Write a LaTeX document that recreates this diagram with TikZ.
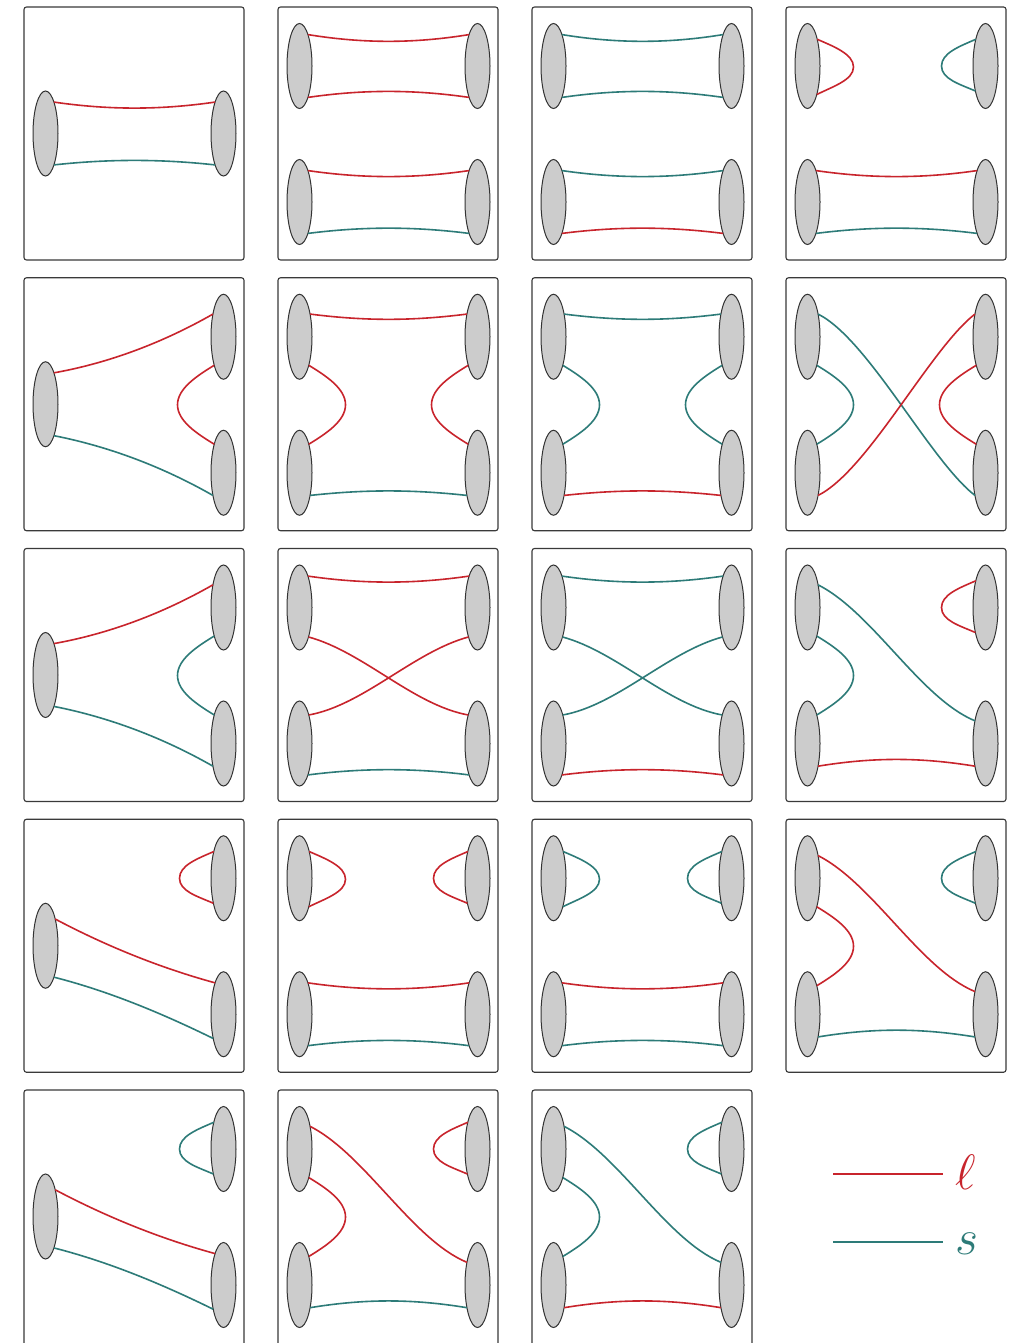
\documentclass[tikz,border=0pt]{standalone}
\usepackage{graphicx}
\usetikzlibrary{shapes.geometric}
\definecolor{lred}{HTML}{C8242C}
\definecolor{lteal}{HTML}{2D7B78}
\definecolor{ellf}{HTML}{CCCCCC}
\definecolor{elld}{HTML}{333333}
\definecolor{frm}{HTML}{3A3A3A}
\tikzset{
  ell/.style={ellipse, draw=elld, fill=ellf, line width=1pt, minimum width=25pt, minimum height=85pt, inner sep=0pt, outer sep=0pt},
  rl/.style={draw=lred, line width=1.6pt},
  tl/.style={draw=lteal, line width=1.6pt},
  frame/.style={draw=frm, line width=1.1pt, rounded corners=2.5pt},
  leglabel/.style={inner sep=0pt, anchor=base west, font=\Huge}
}
\newcommand\panelframe[1][253]{\draw[frame] (0,0) rectangle (220,#1);}
\newcommand\fourell[1]{\node[ell] (#1LT) at (21.5,59) {}; \node[ell] (#1LB) at (21.5,195) {}; \node[ell] (#1RT) at (199.5,59) {}; \node[ell] (#1RB) at (199.5,195) {};}
\newcommand\threeell[1]{\node[ell] (#1L) at (21.5,126.5) {}; \node[ell] (#1RT) at (199.5,59) {}; \node[ell] (#1RB) at (199.5,195) {};}
\newcommand\twoell[1]{\node[ell] (#1L) at (21.5,126.5) {}; \node[ell] (#1R) at (199.5,126.5) {};}
\newcommand\tube[6]{\draw[#1] (#2.#4) .. controls +(55,#6) and +(-55,#6) .. (#3.#5);}
\newcommand\cupL[2]{\draw[#1] (#2LT.-72) .. controls +(18,11) and +(0,-16) .. (67.5,127) .. controls +(0,16) and +(18,-11) .. (#2LB.72);}
\newcommand\cupR[2]{\draw[#1] (#2RT.-108) .. controls +(-18,11) and +(0,-16) .. (153.5,127) .. controls +(0,16) and +(-18,-11) .. (#2RB.108);}
\newcommand\capL[2]{\draw[#1] (#2LT.70) .. controls +(16,7) and +(0,-13) .. (67.5,60) .. controls +(0,13) and +(16,-8) .. (#2LT.-72);}
\newcommand\capR[2]{\draw[#1] (#2RT.110) .. controls +(-16,7) and +(0,-13) .. (155.5,59) .. controls +(0,13) and +(-16,-7) .. (#2RT.-112);}
\begin{document}
\begin{tikzpicture}[x=1pt,y=-1pt]
\fill[white] (0,0) rectangle (1013,1343);
\useasboundingbox (0,0) rectangle (1013,1343);

% ---------- row 1 ----------
\begin{scope}[shift={(24,7)}]
\panelframe \twoell{a}
\tube{rl}{aL}{aR}{75}{105}{8}
\tube{tl}{aL}{aR}{-75}{-105}{-6}
\end{scope}

\begin{scope}[shift={(278,7)}]
\panelframe \fourell{b}
\tube{rl}{bLT}{bRT}{75}{105}{9}
\tube{rl}{bLT}{bRT}{-75}{-105}{-8}
\tube{rl}{bLB}{bRB}{75}{105}{8}
\tube{tl}{bLB}{bRB}{-75}{-105}{-7}
\end{scope}

\begin{scope}[shift={(532,7)}]
\panelframe \fourell{c}
\tube{tl}{cLT}{cRT}{75}{105}{9}
\tube{tl}{cLT}{cRT}{-75}{-105}{-8}
\tube{tl}{cLB}{cRB}{75}{105}{8}
\tube{rl}{cLB}{cRB}{-75}{-105}{-7}
\end{scope}

\begin{scope}[shift={(786,7)}]
\panelframe \fourell{d}
\capL{rl}{d}
\capR{tl}{d}
\tube{rl}{dLB}{dRB}{75}{105}{8}
\tube{tl}{dLB}{dRB}{-75}{-105}{-7}
\end{scope}

% ---------- row 2 ----------
\begin{scope}[shift={(24,277.75)}]
\panelframe \threeell{e}
\draw[rl] (eL.75) .. controls +(56,-10) and +(-49,28) .. (eRT.115);
\draw[tl] (eL.-75) .. controls +(56,11) and +(-49,-28) .. (eRB.-115);
\cupR{rl}{e}
\end{scope}

\begin{scope}[shift={(278,277.75)}]
\panelframe \fourell{f}
\tube{rl}{fLT}{fRT}{65}{115}{7}
\cupL{rl}{f}
\cupR{rl}{f}
\tube{tl}{fLB}{fRB}{-65}{-115}{-6}
\end{scope}

\begin{scope}[shift={(532,277.75)}]
\panelframe \fourell{g}
\tube{tl}{gLT}{gRT}{65}{115}{7}
\cupL{tl}{g}
\cupR{tl}{g}
\tube{rl}{gLB}{gRB}{-65}{-115}{-6}
\end{scope}

\begin{scope}[shift={(786,277.75)}]
\panelframe \fourell{h}
\draw[tl] (hLT.65) .. controls +(50,25) and +(-45,-35) .. (hRB.-115);
\cupL{tl}{h}
\draw[rl] (hLB.-65) .. controls +(50,-25) and +(-45,35) .. (hRT.115);
\cupR{rl}{h}
\end{scope}

% ---------- row 3 ----------
\begin{scope}[shift={(24,548.5)}]
\panelframe \threeell{i}
\draw[rl] (iL.75) .. controls +(56,-10) and +(-49,28) .. (iRT.115);
\draw[tl] (iL.-75) .. controls +(56,11) and +(-49,-28) .. (iRB.-115);
\cupR{tl}{i}
\end{scope}

\begin{scope}[shift={(278,548.5)}]
\panelframe \fourell{j}
\tube{rl}{jLT}{jRT}{75}{105}{8}
\draw[rl] (jLT.-73) .. controls +(55,15) and +(-55,-10) .. (jRB.108);
\draw[rl] (jLB.72) .. controls +(55,-10) and +(-55,15) .. (jRT.-107);
\tube{tl}{jLB}{jRB}{-75}{-105}{-7}
\end{scope}

\begin{scope}[shift={(532,548.5)}]
\panelframe \fourell{k}
\tube{tl}{kLT}{kRT}{75}{105}{8}
\draw[tl] (kLT.-73) .. controls +(55,15) and +(-55,-10) .. (kRB.108);
\draw[tl] (kLB.72) .. controls +(55,-10) and +(-55,15) .. (kRT.-107);
\tube{rl}{kLB}{kRB}{-75}{-105}{-7}
\end{scope}

\begin{scope}[shift={(786,548.5)}]
\panelframe \fourell{l}
\draw[tl] (lLT.65) .. controls +(55,28) and +(-55,-23) .. (lRB.115);
\cupL{tl}{l}
\capR{rl}{l}
\tube{rl}{lLB}{lRB}{-65}{-115}{-9}
\end{scope}

% ---------- row 4 ----------
\begin{scope}[shift={(24,819.25)}]
\panelframe \threeell{m}
\capR{rl}{m}
\draw[rl] (mL.70) .. controls +(51,27) and +(-55,-15) .. (mRB.105);
\draw[tl] (mL.-75) .. controls +(55,14) and +(-51,-25) .. (mRB.-113);
\end{scope}

\begin{scope}[shift={(278,819.25)}]
\panelframe \fourell{n}
\capL{rl}{n}
\capR{rl}{n}
\tube{rl}{nLB}{nRB}{75}{105}{8}
\tube{tl}{nLB}{nRB}{-75}{-105}{-7}
\end{scope}

\begin{scope}[shift={(532,819.25)}]
\panelframe \fourell{o}
\capL{tl}{o}
\capR{tl}{o}
\tube{rl}{oLB}{oRB}{75}{105}{8}
\tube{tl}{oLB}{oRB}{-75}{-105}{-7}
\end{scope}

\begin{scope}[shift={(786,819.25)}]
\panelframe \fourell{p}
\draw[rl] (pLT.65) .. controls +(55,28) and +(-55,-23) .. (pRB.115);
\cupL{rl}{p}
\capR{tl}{p}
\tube{tl}{pLB}{pRB}{-65}{-115}{-9}
\end{scope}

% ---------- row 5 ----------
\begin{scope}[shift={(24,1090)}]
\panelframe[258] \threeell{q}
\capR{tl}{q}
\draw[rl] (qL.70) .. controls +(51,27) and +(-55,-15) .. (qRB.105);
\draw[tl] (qL.-75) .. controls +(55,14) and +(-51,-25) .. (qRB.-113);
\end{scope}

\begin{scope}[shift={(278,1090)}]
\panelframe[258] \fourell{r}
\draw[rl] (rLT.65) .. controls +(55,28) and +(-55,-23) .. (rRB.115);
\cupL{rl}{r}
\capR{rl}{r}
\tube{tl}{rLB}{rRB}{-65}{-115}{-9}
\end{scope}

\begin{scope}[shift={(532,1090)}]
\panelframe[258] \fourell{s}
\draw[tl] (sLT.65) .. controls +(55,28) and +(-55,-23) .. (sRB.115);
\cupL{tl}{s}
\capR{tl}{s}
\tube{rl}{sLB}{sRB}{-65}{-115}{-9}
\end{scope}

% ---------- legend ----------
\coordinate (lega1) at (833,1174);
\coordinate (lega2) at (943,1174);
\coordinate (legb1) at (833,1242);
\coordinate (legb2) at (943,1242);
\draw[rl] (lega1) -- (lega2);
\draw[tl] (legb1) -- (legb2);
\node[leglabel, text=lred] (labl) at (955,1189) {\scalebox{2}{$\ell$}};
\node[leglabel, text=lteal] (labs) at (955,1254) {\scalebox{2}{$s$}};
\end{tikzpicture}
\end{document}
